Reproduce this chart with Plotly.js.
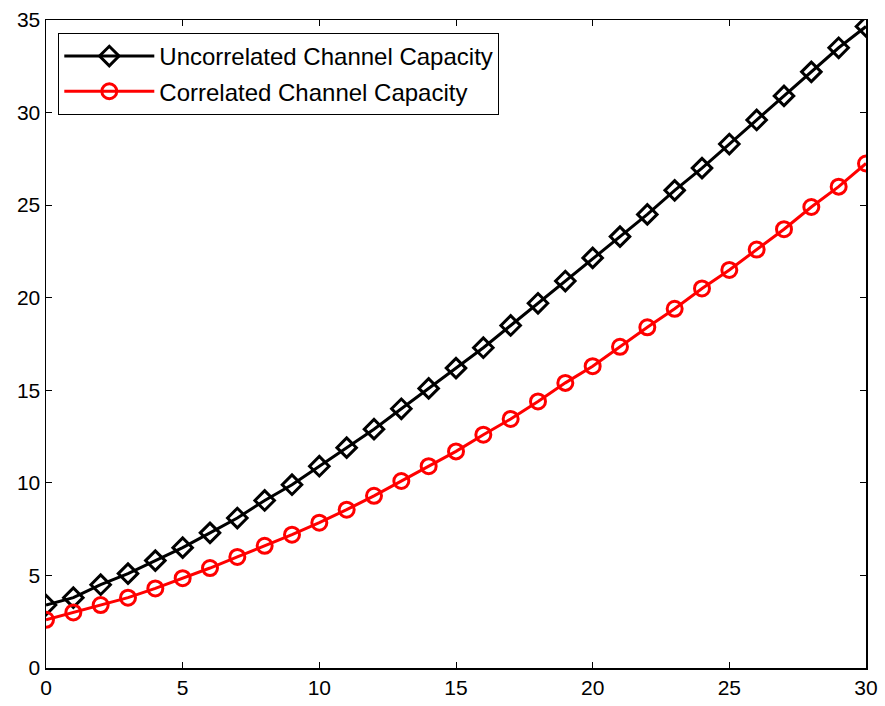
<!DOCTYPE html>
<html>
<head>
<meta charset="utf-8">
<script src="https://cdn.plot.ly/plotly-3.0.1.min.js"></script>
<style>
  html, body { margin: 0; padding: 0; background: #fff; }
  #chart { width: 885px; height: 706px; }
</style>
</head>
<body>
<div id="chart"></div>
<script>
// SNR values along the horizontal axis
const snr = [0, 1, 2, 3, 4, 5, 6, 7, 8, 9, 10, 11, 12, 13, 14, 15,
             16, 17, 18, 19, 20, 21, 22, 23, 24, 25, 26, 27, 28, 29, 30];

// Capacity without antenna correlation
const uncorrelatedCapacity = [3.4, 3.8, 4.5, 5.1, 5.8, 6.5, 7.3, 8.1, 9.05, 9.9, 10.9,
  11.9, 12.9, 14.0, 15.1, 16.2, 17.3, 18.5, 19.7, 20.9, 22.15,
  23.3, 24.5, 25.8, 27.0, 28.3, 29.6, 30.9, 32.2, 33.5, 34.65];

// Capacity with antenna correlation
const correlatedCapacity = [2.6, 3.0, 3.4, 3.8, 4.3, 4.85, 5.4, 6.0, 6.6, 7.2, 7.85,
  8.55, 9.3, 10.1, 10.9, 11.7, 12.6, 13.45, 14.4, 15.4, 16.3,
  17.35, 18.4, 19.4, 20.5, 21.5, 22.6, 23.7, 24.9, 26.0, 27.25];

const seriesNames = ['Uncorrelated Channel Capacity', 'Correlated Channel Capacity'];

const fontFamily = 'Liberation Sans, Arial, Helvetica, sans-serif';

const traces = [
  {
    x: snr, y: uncorrelatedCapacity, name: seriesNames[0], legendgroup: 'u',
    type: 'scatter', mode: 'lines+markers',
    line: { color: '#000000', width: 3 },
    marker: { symbol: 'diamond-open', size: 15, color: '#000000', line: { width: 3, color: '#000000' } }
  },
  {
    x: snr, y: correlatedCapacity, name: seriesNames[1], legendgroup: 'c',
    type: 'scatter', mode: 'lines+markers',
    line: { color: '#ff0000', width: 3 },
    marker: { symbol: 'circle-open', size: 15, color: '#ff0000', line: { width: 3, color: '#ff0000' } }
  }
];

const axisCommon = {
  showgrid: false, zeroline: false,
  showline: true, linecolor: '#000000', linewidth: 1.5, mirror: 'ticks',
  ticks: 'inside', ticklen: 6, tickwidth: 1, tickcolor: '#000000',
  tickfont: { family: fontFamily, size: 21, color: '#000000' }
};

const layout = {
  width: 885, height: 706,
  margin: { l: 46, r: 19, t: 20, b: 38 },
  paper_bgcolor: '#ffffff', plot_bgcolor: '#ffffff',
  font: { family: fontFamily, color: '#000000' },
  xaxis: Object.assign({}, axisCommon, { range: [0, 30], tickvals: [0, 5, 10, 15, 20, 25, 30] }),
  yaxis: Object.assign({}, axisCommon, { range: [0, 35], tickvals: [0, 5, 10, 15, 20, 25, 30, 35] }),
  showlegend: true,
  legend: {
    x: 0.015, y: 0.98, xanchor: 'left', yanchor: 'top',
    bgcolor: '#ffffff', bordercolor: '#000000', borderwidth: 1,
    font: { family: fontFamily, size: 24, color: '#000000' },
    itemwidth: 90, tracegroupgap: 1
  }
};

Plotly.newPlot('chart', traces, layout, { displayModeBar: false, staticPlot: true });
</script>
</body>
</html>
